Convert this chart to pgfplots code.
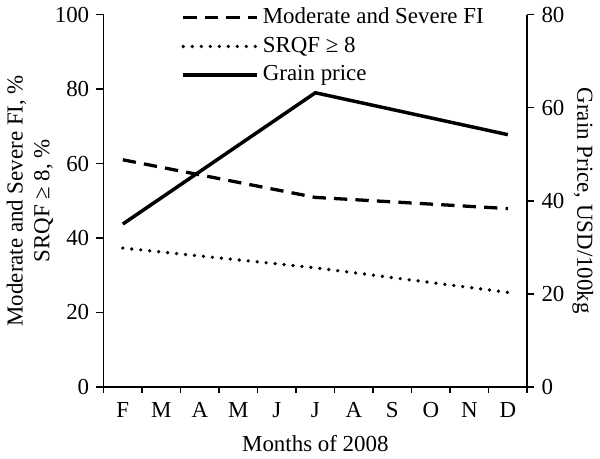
\documentclass[border=0pt]{standalone}
\usepackage{fontspec}
\setmainfont{Liberation Serif}
\usepackage{pgfplots}
\pgfplotsset{compat=1.18}

\begin{document}
\begin{tikzpicture}[font=\fontsize{11.2}{13}\selectfont]
\pgfplotsset{
  every axis/.append style={
    scale only axis, width=207pt, height=182pt,
    xmin=-0.5, xmax=10.5,
    tick align=outside,
    tick style={black, line width=0.8pt},
    major tick length=3.5pt, minor tick length=3pt,
    axis line style={line width=0.9pt},
    /pgf/number format/assume math mode=true,
    tick label style={font=\fontsize{11.2}{13}\selectfont},
    label style={font=\fontsize{11.2}{13}\selectfont},
  },
}
\begin{axis}[
  axis y line*=left, axis x line*=bottom,
  ymin=0, ymax=100, ytick={0,20,...,100},
  xtick={0,...,10}, xticklabels={F,M,A,M,J,J,A,S,O,N,D},
  major x tick style={draw=none},
  minor xtick={-0.5,0.5,...,10.5},
  xticklabel style={yshift=-0.5pt},
  xlabel={Months of 2008},
  xlabel style={yshift=-1.5pt},
  ylabel={Moderate and Severe FI, \%\\SRQF ≥ 8, \%},
  ylabel style={align=center},
  ylabel shift=-6pt,
  legend style={draw=none, fill=none, at={(0.178,1.035)}, anchor=north west,
    cells={anchor=west}, row sep=1pt, inner sep=1pt,
    nodes={inner xsep=2pt}},
  legend image code/.code={\draw[#1] (0pt,0pt) -- (36pt,0pt);},
]
\addplot[black, line width=1.6pt, dash pattern=on 6.5pt off 4pt]
  coordinates {(0,61.0) (5,50.9) (10,47.9)};
\addlegendentry{Moderate and Severe FI}
\addplot[black, line width=1.8pt, line cap=round, dash pattern=on 0pt off 4.4pt]
  coordinates {(0,37.3) (5,32.0) (10,25.4)};
\addlegendentry{SRQF ≥ 8}
\addlegendimage{black, line width=1.7pt}
\addlegendentry{Grain price}
\end{axis}
\begin{axis}[
  axis y line*=right, axis x line=none,
  ymin=0, ymax=80, ytick={0,20,...,80},
  ylabel={Grain Price, USD/100kg},
  ylabel style={rotate=180},
  ylabel shift=-3pt,
]
\addplot[black, line width=1.7pt]
  coordinates {(0,35.0) (5,63.2) (10,54.2)};
\end{axis}
\end{tikzpicture}
\end{document}
